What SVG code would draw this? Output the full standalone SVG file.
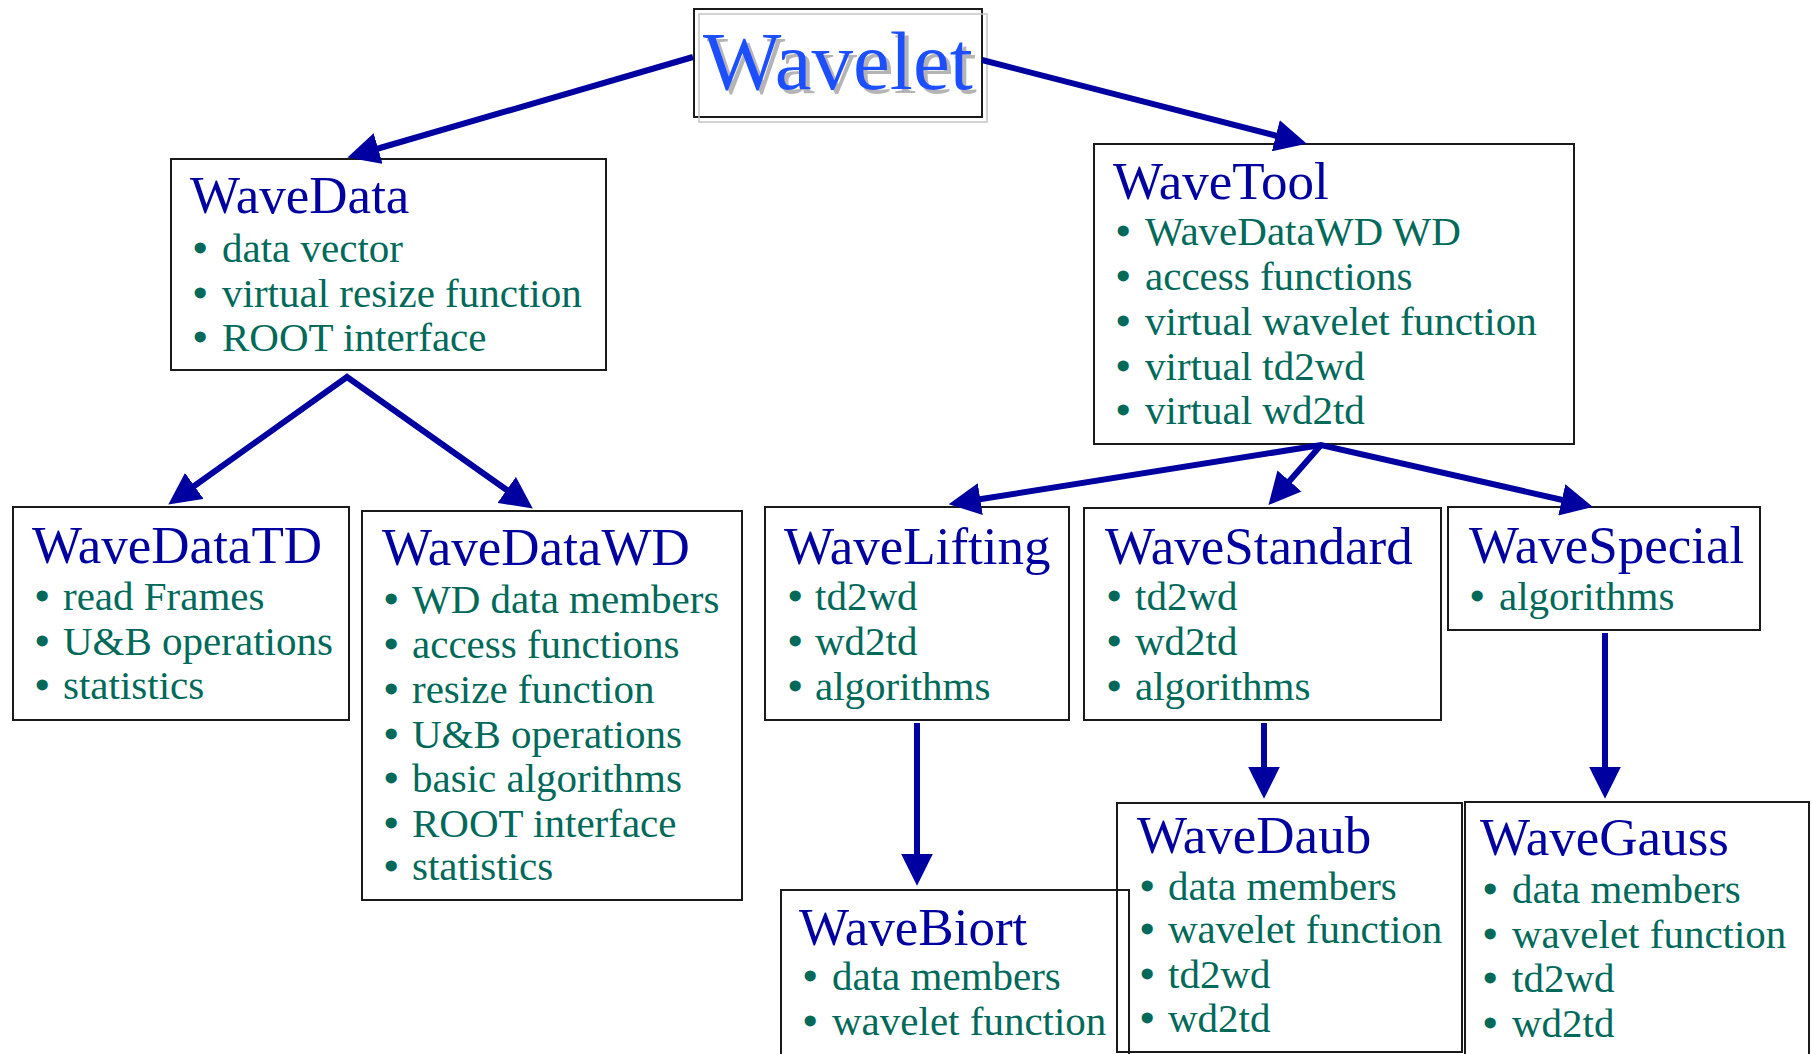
<svg xmlns="http://www.w3.org/2000/svg" width="1812" height="1054" viewBox="0 0 1812 1054">
  <defs>
    <!-- filled arrowhead; tip sits 25px beyond the line end -->
    <marker id="arrow" markerUnits="userSpaceOnUse" markerWidth="32" markerHeight="32" viewBox="0 0 30 30" refX="5" refY="15" orient="auto-start-reverse">
      <path d="M0,0 L30,15 L0,30 z" fill="#0000a0"/>
    </marker>
    <!-- grey drop shadow behind the root title -->
    <filter id="shadow" x="-5%" y="-10%" width="115%" height="130%">
      <feOffset in="SourceAlpha" dx="4" dy="4" result="off"/>
      <feFlood flood-color="#b4b4b4"/>
      <feComposite in2="off" operator="in" result="sh"/>
      <feMerge><feMergeNode in="sh"/><feMergeNode in="SourceGraphic"/></feMerge>
    </filter>
  </defs>
  <style>
    .box { fill: none; stroke: #1a1a1a; stroke-width: 2; }
    .title { font-family: "Liberation Serif", "Times New Roman", serif; font-size: 53px; fill: #0000a0; }
    .item { font-family: "Liberation Serif", "Times New Roman", serif; font-size: 41px; fill: #00695a; }
    .dot { font-weight: bold; }
    .edge { fill: none; stroke: #0000a0; stroke-width: 6; stroke-linejoin: miter; marker-end: url(#arrow); }
    .fork { marker-start: url(#arrow); }
  </style>
  <rect width="1812" height="1054" fill="#ffffff"/>

  <!-- root -->
  <g id="wavelet">
    <rect x="694" y="9" width="288" height="108" class="box"/>
    <rect x="699" y="14" width="288" height="108" fill="none" stroke="#c4c4c4" stroke-width="1.5"/>
    <text x="703" y="89" font-family="Liberation Serif, Times New Roman, serif" font-size="83" fill="#1f50ff" filter="url(#shadow)">Wavelet</text>
  </g>

  <g id="wavedata">
    <rect x="171" y="159" width="435" height="211" class="box"/>
    <text x="190" y="213" class="title">WaveData</text>
    <text class="item"><tspan class="dot" x="193" y="262">•</tspan><tspan x="222" y="262">data vector</tspan></text>
    <text class="item"><tspan class="dot" x="193" y="307">•</tspan><tspan x="222" y="307">virtual resize function</tspan></text>
    <text class="item"><tspan class="dot" x="193" y="351">•</tspan><tspan x="222" y="351">ROOT interface</tspan></text>
  </g>

  <g id="wavetool">
    <rect x="1094" y="144" width="480" height="300" class="box"/>
    <text x="1113" y="199" class="title">WaveTool</text>
    <text class="item"><tspan class="dot" x="1116" y="245">•</tspan><tspan x="1145" y="245">WaveDataWD WD</tspan></text>
    <text class="item"><tspan class="dot" x="1116" y="290">•</tspan><tspan x="1145" y="290">access functions</tspan></text>
    <text class="item"><tspan class="dot" x="1116" y="335">•</tspan><tspan x="1145" y="335">virtual wavelet function</tspan></text>
    <text class="item"><tspan class="dot" x="1116" y="380">•</tspan><tspan x="1145" y="380">virtual td2wd</tspan></text>
    <text class="item"><tspan class="dot" x="1116" y="424">•</tspan><tspan x="1145" y="424">virtual wd2td</tspan></text>
  </g>

  <g id="wavedatatd">
    <rect x="13" y="507" width="336" height="213" class="box"/>
    <text x="32" y="563" class="title">WaveDataTD</text>
    <text class="item"><tspan class="dot" x="35" y="610">•</tspan><tspan x="63" y="610">read Frames</tspan></text>
    <text class="item"><tspan class="dot" x="35" y="655">•</tspan><tspan x="63" y="655">U&amp;B operations</tspan></text>
    <text class="item"><tspan class="dot" x="35" y="699">•</tspan><tspan x="63" y="699">statistics</tspan></text>
  </g>

  <g id="wavedatawd">
    <rect x="362" y="511" width="380" height="389" class="box"/>
    <text x="382" y="565" class="title">WaveDataWD</text>
    <text class="item"><tspan class="dot" x="384" y="613">•</tspan><tspan x="412" y="613">WD data members</tspan></text>
    <text class="item"><tspan class="dot" x="384" y="658">•</tspan><tspan x="412" y="658">access functions</tspan></text>
    <text class="item"><tspan class="dot" x="384" y="703">•</tspan><tspan x="412" y="703">resize function</tspan></text>
    <text class="item"><tspan class="dot" x="384" y="748">•</tspan><tspan x="412" y="748">U&amp;B operations</tspan></text>
    <text class="item"><tspan class="dot" x="384" y="792">•</tspan><tspan x="412" y="792">basic algorithms</tspan></text>
    <text class="item"><tspan class="dot" x="384" y="837">•</tspan><tspan x="412" y="837">ROOT interface</tspan></text>
    <text class="item"><tspan class="dot" x="384" y="880">•</tspan><tspan x="412" y="880">statistics</tspan></text>
  </g>

  <g id="wavelifting">
    <rect x="765" y="507" width="304" height="213" class="box"/>
    <text x="784" y="564" class="title">WaveLifting</text>
    <text class="item"><tspan class="dot" x="788" y="610">•</tspan><tspan x="815" y="610">td2wd</tspan></text>
    <text class="item"><tspan class="dot" x="788" y="655">•</tspan><tspan x="815" y="655">wd2td</tspan></text>
    <text class="item"><tspan class="dot" x="788" y="700">•</tspan><tspan x="815" y="700">algorithms</tspan></text>
  </g>

  <g id="wavestandard">
    <rect x="1084" y="508" width="357" height="212" class="box"/>
    <text x="1105" y="564" class="title">WaveStandard</text>
    <text class="item"><tspan class="dot" x="1107" y="610">•</tspan><tspan x="1135" y="610">td2wd</tspan></text>
    <text class="item"><tspan class="dot" x="1107" y="655">•</tspan><tspan x="1135" y="655">wd2td</tspan></text>
    <text class="item"><tspan class="dot" x="1107" y="700">•</tspan><tspan x="1135" y="700">algorithms</tspan></text>
  </g>

  <g id="wavespecial">
    <rect x="1448" y="507" width="312" height="123" class="box"/>
    <text x="1469" y="563" class="title">WaveSpecial</text>
    <text class="item"><tspan class="dot" x="1470" y="610">•</tspan><tspan x="1499" y="610">algorithms</tspan></text>
  </g>

  <g id="wavebiort">
    <rect x="781" y="890" width="348" height="170" class="box"/>
    <text x="799" y="945" class="title">WaveBiort</text>
    <text class="item"><tspan class="dot" x="803" y="990">•</tspan><tspan x="832" y="990">data members</tspan></text>
    <text class="item"><tspan class="dot" x="803" y="1035">•</tspan><tspan x="832" y="1035">wavelet function</tspan></text>
  </g>

  <g id="wavedaub">
    <rect x="1117" y="803" width="345" height="249" class="box"/>
    <text x="1137" y="853" class="title" font-size="45">WaveDaub</text>
    <text class="item"><tspan class="dot" x="1140" y="900">•</tspan><tspan x="1168" y="900">data members</tspan></text>
    <text class="item"><tspan class="dot" x="1140" y="943">•</tspan><tspan x="1168" y="943">wavelet function</tspan></text>
    <text class="item"><tspan class="dot" x="1140" y="988">•</tspan><tspan x="1168" y="988">td2wd</tspan></text>
    <text class="item"><tspan class="dot" x="1140" y="1032">•</tspan><tspan x="1168" y="1032">wd2td</tspan></text>
  </g>

  <g id="wavegauss">
    <rect x="1465" y="802" width="344" height="260" class="box"/>
    <text x="1480" y="855" class="title">WaveGauss</text>
    <text class="item"><tspan class="dot" x="1483" y="903">•</tspan><tspan x="1512" y="903">data members</tspan></text>
    <text class="item"><tspan class="dot" x="1483" y="948">•</tspan><tspan x="1512" y="948">wavelet function</tspan></text>
    <text class="item"><tspan class="dot" x="1483" y="992">•</tspan><tspan x="1512" y="992">td2wd</tspan></text>
    <text class="item"><tspan class="dot" x="1483" y="1037">•</tspan><tspan x="1512" y="1037">wd2td</tspan></text>
  </g>

  <!-- inheritance connectors -->
  <g id="connectors">
    <path class="edge" d="M693,57 L373,150"/>
    <path class="edge" d="M982,60 L1281,137"/>
    <path class="edge fork" d="M190,489 L347,377 L511,493"/>
    <path class="edge fork" d="M975,500 L1321,445 L1567,501"/>
    <path class="edge" d="M1321,445 L1286,485"/>
    <path class="edge" d="M917,723 L917,859"/>
    <path class="edge" d="M1264,723 L1264,772"/>
    <path class="edge" d="M1605,633 L1605,772"/>
  </g>
</svg>
